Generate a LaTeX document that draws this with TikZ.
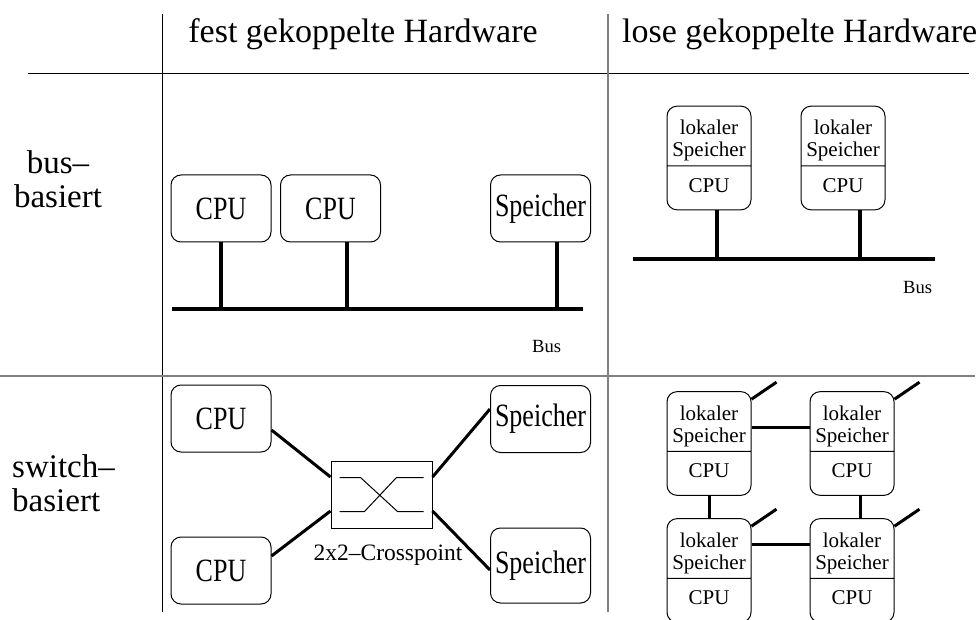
\documentclass[tikz,border=0pt]{standalone}
\usepackage{fontspec}
\setmainfont{Liberation Serif}
\newfontfamily\boxfont[FakeStretch=0.8]{Liberation Serif}
\usetikzlibrary{positioning,shapes.multipart}

% two-part box: local memory over CPU
\newcommand{\lokalteil}{\rule{0pt}{24.3pt}lokaler\\Speicher\nodepart{two}\rule[-13pt]{0pt}{34.9pt}CPU}

\begin{document}
\begin{tikzpicture}[
    x=1pt, y=-1pt,
    unit/.style={draw,rounded corners=10pt,line width=1pt,minimum width=100pt,
                 minimum height=67pt,inner sep=0pt,font=\boxfont\fontsize{32.5}{34}\selectfont},
    lokal/.style={draw,rounded corners=10pt,line width=1pt,rectangle split,
                  rectangle split parts=2,text width=80pt,align=center,
                  inner xsep=2pt,inner ysep=4pt,font=\fontsize{21}{22}\selectfont},
    xbox/.style={draw,line width=1pt,minimum width=101pt,minimum height=67pt,inner sep=0pt},
    head/.style={inner sep=0pt,font=\fontsize{34}{36}\selectfont},
    rowlbl/.style={inner sep=0pt,font=\fontsize{33}{34}\selectfont},
    buslbl/.style={inner sep=0pt,font=\fontsize{18.6}{20}\selectfont},
    xlbl/.style={inner sep=0pt,font=\fontsize{23.5}{25}\selectfont},
    rule/.style={line width=1pt},
    softrule/.style={line width=1.5pt,black!50},
    bus/.style={line width=3.5pt},
    link/.style={line width=3pt},
  ]
  \useasboundingbox (0,0) rectangle (979,620);

  % --- table frame ---
  \draw[rule] (28,74) -- (969,74);
  \draw[rule] (162,14) -- (162,612);
  \draw[softrule] (608,14) -- (608,612);
  \draw[softrule] (0,376) -- (975,376);

  % --- headings ---
  \node[head,anchor=base] (hFest) at (363,43) {fest gekoppelte Hardware};
  \node[head,anchor=base west] (hLose) at (622,43) {lose gekoppelte Hardware};
  \node[rowlbl,align=center,anchor=north] (rBus) at (58,150.5) {bus–\\basiert};
  \node[rowlbl,align=left,anchor=north west] (rSwitch) at (12,454.5) {switch–\\basiert};

  % --- bus, tightly coupled ---
  \node[unit] (cpuA) at (221,208.5)   {CPU};
  \node[unit] (cpuB) at (330.5,208.5) {CPU};
  \node[unit] (spA)  at (540.5,208.5) {Speicher};
  \coordinate (busLa) at (172,309);
  \coordinate (busLb) at (583,309);
  \draw[bus] (busLa) -- (busLb);
  \draw[bus] (cpuA.south) -- ++(0,67);
  \draw[bus] ([xshift=16.5pt]cpuB.south) -- ++(0,67);
  \draw[bus] ([xshift=16.5pt]spA.south) -- ++(0,67);
  \node[buslbl,anchor=base west] (busTxtL) at (532,352) {Bus};

  % --- bus, loosely coupled ---
  \node[lokal] (lsA) at (709,158) {\lokalteil};
  \node[lokal] (lsB) at (843,158) {\lokalteil};
  \coordinate (busRa) at (633,259);
  \coordinate (busRb) at (935,259);
  \draw[bus] (busRa) -- (busRb);
  \draw[bus] ([xshift=8pt]lsA.south) -- ++(0,50);
  \draw[bus] ([xshift=17pt]lsB.south) -- ++(0,50);
  \node[buslbl,anchor=base west] (busTxtR) at (903,293) {Bus};

  % --- switch, tightly coupled ---
  \node[unit] (cpuC) at (221,418.5) {CPU};
  \node[unit] (cpuD) at (221,570.5) {CPU};
  \node[unit] (spB)  at (540.5,419) {Speicher};
  \node[unit,minimum height=75pt] (spC) at (540.5,565.5) {Speicher};
  \node[xbox] (xp) at (381.5,494.5) {};
  \draw[rule,shift={(xp.center)}]
    (-42,-17) -- (-21,-17) -- (16,17) -- (42,17)
    (-42,17) -- (-17,17) -- (15,-17) -- (42,-17);
  \node[xlbl,below=16.5pt of xp,xshift=6.5pt] (xpTxt) {2x2–Crosspoint};
  \draw[link] ([yshift=-11.5pt]cpuC.east) -- ([yshift=17.5pt]xp.west);
  \draw[link] ([yshift=14.5pt]cpuD.east) -- ([yshift=-16.5pt]xp.west);
  \draw[link] ([yshift=10pt]spB.west)    -- ([yshift=17.5pt]xp.east);
  \draw[link] ([yshift=-4.5pt]spC.west)  -- ([yshift=-16.5pt]xp.east);

  % --- switch, loosely coupled (grid) ---
  \node[lokal] (lsC) at (709,443.5) {\lokalteil};
  \node[lokal] (lsD) at (852,443.5) {\lokalteil};
  \node[lokal] (lsE) at (709,570.5) {\lokalteil};
  \node[lokal] (lsF) at (852,570.5) {\lokalteil};
  \draw[link] ([yshift=16.5pt]lsC.east) -- ([yshift=16.5pt]lsD.west);
  \draw[link] ([yshift=26.5pt]lsE.east) -- ([yshift=26.5pt]lsF.west);
  \draw[link] (lsC.south) -- (lsE.north);
  \draw[link] ([xshift=8pt]lsD.south) -- ([xshift=8pt]lsF.north);
  \foreach \n in {lsC,lsD,lsE,lsF}
    \draw[link] ([yshift=-8pt]\n.north east) -- ++(25,-17);

\end{tikzpicture}
\end{document}
